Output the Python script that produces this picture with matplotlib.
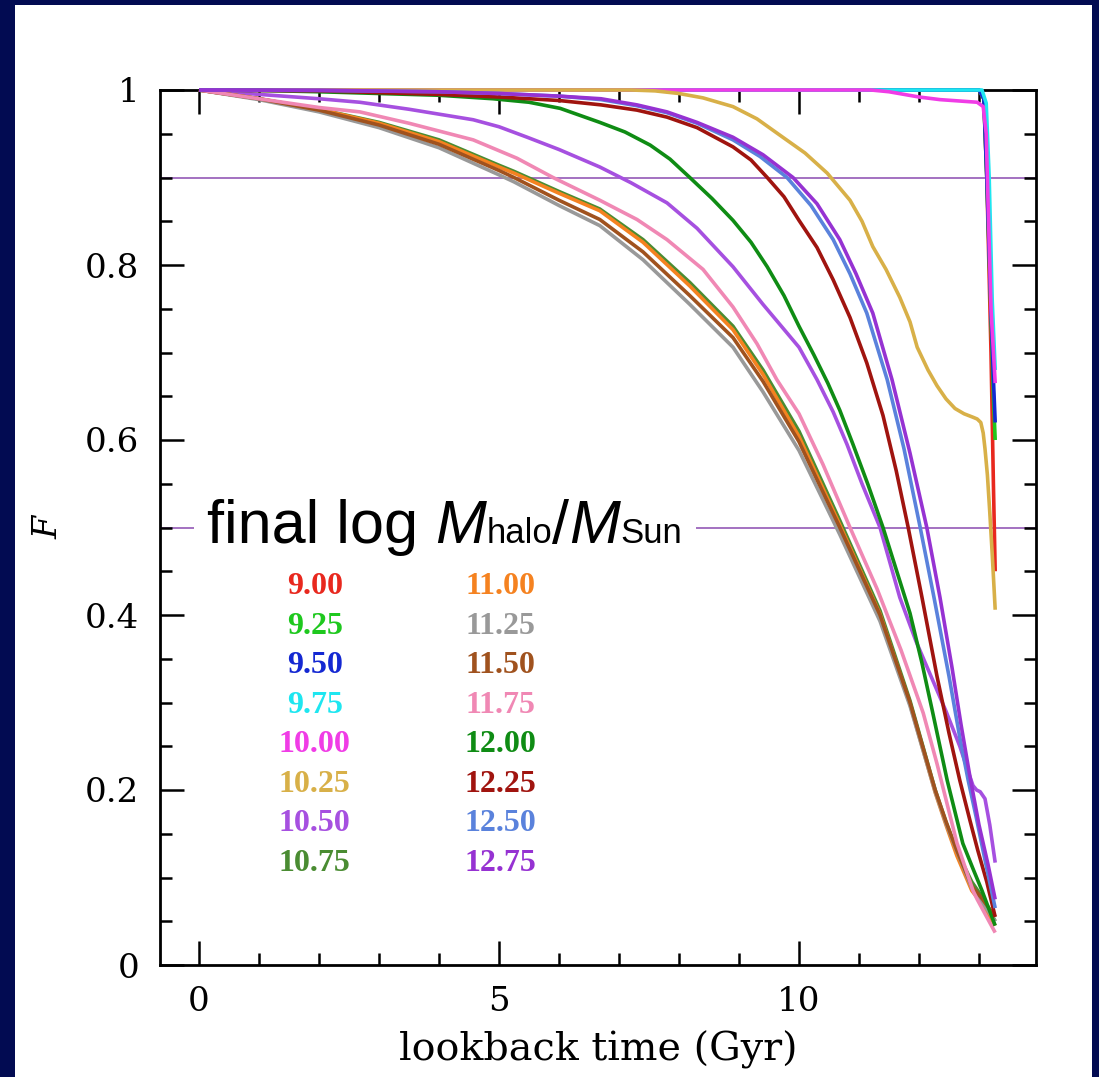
import matplotlib
matplotlib.use("Agg")
import matplotlib.pyplot as plt
from matplotlib.patches import Rectangle
from matplotlib.offsetbox import TextArea, HPacker, AnnotationBbox
from matplotlib.ticker import MultipleLocator

# ---- fraction F of the final halo mass already assembled vs lookback time (Gyr) ----
t_900 = [0, 13.0, 13.08, 13.13, 13.2, 13.24, 13.27]
f_900 = [1, 1.0, 0.99, 0.90, 0.70, 0.55, 0.45]

t_925 = [0, 13.0, 13.08, 13.13, 13.2, 13.24, 13.27]
f_925 = [1, 1.0, 0.99, 0.90, 0.74, 0.65, 0.60]

t_950 = [0, 13.0, 13.08, 13.13, 13.2, 13.24, 13.27]
f_950 = [1, 1.0, 0.99, 0.90, 0.75, 0.67, 0.62]

t_975 = [0, 13.05, 13.12, 13.17, 13.22, 13.27]
f_975 = [1, 1.0, 0.985, 0.90, 0.76, 0.68]

t_1000 = [0, 11.2, 11.5, 12.0, 12.35, 12.97, 13.07, 13.12, 13.15, 13.2, 13.27]
f_1000 = [1, 1.0, 0.998, 0.992, 0.989, 0.986, 0.981, 0.95, 0.874, 0.75, 0.665]

t_1025 = [0, 7.2, 7.6, 8.0, 8.4, 8.9, 9.3, 9.73, 10.1, 10.47, 10.85, 11.05, 11.23,
          11.45, 11.68, 11.85, 11.97, 12.15, 12.3, 12.45, 12.6, 12.75, 12.9, 12.97,
          13.03, 13.07, 13.1, 13.14, 13.18, 13.22, 13.27]
f_1025 = [1, 1.0, 0.999, 0.996, 0.991, 0.981, 0.967, 0.946, 0.928, 0.905, 0.874, 0.85,
          0.821, 0.795, 0.763, 0.735, 0.706, 0.68, 0.662, 0.647, 0.636, 0.63, 0.626,
          0.624, 0.62, 0.608, 0.59, 0.56, 0.517, 0.47, 0.406]

t_1050 = [0, 1, 2, 2.68, 3.5, 4.57, 5.0, 5.47, 6.0, 6.68, 7.2, 7.8, 8.3, 8.9, 9.4,
          10.0, 10.3, 10.57, 10.8, 11.05, 11.35, 11.68, 11.95, 12.2, 12.45, 12.68,
          12.8, 12.9, 12.96, 13.02, 13.1, 13.18, 13.27]
f_1050 = [1, 0.995, 0.99, 0.986, 0.978, 0.966, 0.958, 0.946, 0.932, 0.912, 0.894, 0.871,
          0.842, 0.798, 0.755, 0.706, 0.669, 0.632, 0.595, 0.55, 0.5, 0.42, 0.37, 0.33,
          0.29, 0.25, 0.225, 0.205, 0.2, 0.198, 0.19, 0.16, 0.117]

t_1075 = [0, 1, 2, 3, 4, 5, 5.25, 6, 6.68, 7.4, 8.18, 8.9, 9.4, 10.0, 10.68, 11.35,
          11.85, 12.27, 12.45, 12.63, 12.88, 13.05, 13.27]
f_1075 = [1, 0.99, 0.978, 0.963, 0.943, 0.914, 0.907, 0.884, 0.864, 0.829, 0.78, 0.73,
          0.68, 0.61, 0.508, 0.405, 0.302, 0.2, 0.163, 0.13, 0.095, 0.078, 0.05]

t_1100 = [0, 1, 2, 3, 4, 5, 5.25, 6, 6.68, 7.4, 8.18, 8.9, 9.4, 10.0, 10.68, 11.35,
          11.85, 12.27, 12.45, 12.63, 12.88, 13.05, 13.27]
f_1100 = [1, 0.99, 0.978, 0.962, 0.941, 0.912, 0.905, 0.882, 0.862, 0.826, 0.776, 0.726,
          0.675, 0.604, 0.503, 0.401, 0.298, 0.197, 0.16, 0.125, 0.085, 0.07, 0.045]

t_1125 = [0, 1, 2, 3, 4, 5, 5.25, 6, 6.68, 7.4, 8.18, 8.9, 9.4, 10.0, 10.68, 11.35,
          11.85, 12.27, 12.45, 12.63, 12.88, 13.05, 13.27]
f_1125 = [1, 0.989, 0.975, 0.957, 0.934, 0.903, 0.895, 0.868, 0.845, 0.806, 0.755, 0.706,
          0.655, 0.588, 0.492, 0.393, 0.296, 0.198, 0.162, 0.13, 0.088, 0.072, 0.05]

t_1150 = [0, 1, 2, 3, 4, 5, 5.25, 6, 6.68, 7.4, 8.18, 8.9, 9.4, 10.0, 10.68, 11.35,
          11.85, 12.27, 12.45, 12.63, 12.88, 13.05, 13.27]
f_1150 = [1, 0.99, 0.977, 0.96, 0.938, 0.908, 0.9, 0.874, 0.852, 0.815, 0.765, 0.717,
          0.667, 0.598, 0.5, 0.4, 0.3, 0.2, 0.164, 0.131, 0.09, 0.076, 0.055]

t_1175 = [0, 1, 2, 2.68, 3.5, 4.57, 5.3, 5.9, 6.68, 7.3, 7.8, 8.4, 8.9, 9.3, 9.63, 10.0,
          10.4, 10.85, 11.3, 11.7, 12.07, 12.3, 12.63, 12.9, 12.97, 13.27]
f_1175 = [1, 0.99, 0.98, 0.975, 0.962, 0.943, 0.922, 0.90, 0.874, 0.852, 0.829, 0.795,
          0.752, 0.71, 0.669, 0.63, 0.572, 0.5, 0.43, 0.36, 0.288, 0.23, 0.14, 0.085,
          0.075, 0.037]

t_1200 = [0, 1, 2, 3, 4, 4.9, 5.5, 6.02, 6.68, 7.1, 7.52, 7.85, 8.18, 8.55, 8.9, 9.2,
          9.47, 9.75, 10.0, 10.25, 10.48, 10.68, 10.9, 11.15, 11.4, 11.62, 11.85, 12.05,
          12.23, 12.47, 12.73, 12.9, 13.05, 13.27]
f_1200 = [1, 0.9995, 0.998, 0.996, 0.994, 0.99, 0.986, 0.979, 0.963, 0.952, 0.937,
          0.921, 0.90, 0.876, 0.851, 0.826, 0.798, 0.765, 0.73, 0.697, 0.665, 0.634,
          0.595, 0.549, 0.5, 0.452, 0.402, 0.345, 0.288, 0.211, 0.139, 0.11, 0.085, 0.045]

t_1225 = [0, 1, 2, 3, 4, 5, 6, 6.7, 7.3, 7.8, 8.3, 8.9, 9.2, 9.47, 9.75, 10.0, 10.3,
          10.57, 10.85, 11.13, 11.4, 11.62, 11.82, 12.05, 12.3, 12.5, 12.68, 12.85,
          12.98, 13.13, 13.27]
f_1225 = [1, 0.9995, 0.999, 0.997, 0.995, 0.992, 0.988, 0.983, 0.977, 0.969, 0.957,
          0.935, 0.92, 0.90, 0.878, 0.851, 0.82, 0.783, 0.74, 0.688, 0.628, 0.565, 0.50,
          0.42, 0.33, 0.265, 0.211, 0.165, 0.131, 0.095, 0.055]

t_1250 = [0, 2, 4, 5, 6, 6.7, 7.3, 7.8, 8.3, 8.9, 9.35, 9.8, 10.2, 10.57, 10.85, 11.13,
          11.47, 11.75, 12.02, 12.25, 12.5, 12.68, 12.82, 12.95, 13.1, 13.27]
f_1250 = [1, 0.9995, 0.998, 0.996, 0.993, 0.989, 0.982, 0.974, 0.962, 0.943, 0.924,
          0.90, 0.868, 0.829, 0.79, 0.745, 0.669, 0.59, 0.5, 0.42, 0.33, 0.26, 0.211,
          0.17, 0.12, 0.065]

t_1275 = [0, 2, 4, 5, 6, 6.7, 7.3, 7.8, 8.3, 8.9, 9.4, 9.9, 10.3, 10.68, 10.95, 11.23,
          11.55, 11.85, 12.13, 12.35, 12.55, 12.7, 12.85, 13.0, 13.15, 13.27]
f_1275 = [1, 0.9997, 0.998, 0.996, 0.993, 0.99, 0.983, 0.975, 0.963, 0.946, 0.926,
          0.90, 0.87, 0.829, 0.79, 0.745, 0.669, 0.585, 0.5, 0.42, 0.34, 0.275, 0.215,
          0.16, 0.115, 0.075]

mass_labels = ["9.00", "9.25", "9.50", "9.75", "10.00", "10.25", "10.50", "10.75",
               "11.00", "11.25", "11.50", "11.75", "12.00", "12.25", "12.50", "12.75"]
mass_colors = ["#e8281e", "#1ec81e", "#1428d2", "#1ee6f0", "#f03ce6", "#d8b048",
               "#a650e0", "#4a8c32", "#f58220", "#999999", "#a0521e", "#f088b4",
               "#0f8c14", "#a0140f", "#5a82dc", "#9632d2"]
times = [t_900, t_925, t_950, t_975, t_1000, t_1025, t_1050, t_1075,
         t_1100, t_1125, t_1150, t_1175, t_1200, t_1225, t_1250, t_1275]
fractions = [f_900, f_925, f_950, f_975, f_1000, f_1025, f_1050, f_1075,
             f_1100, f_1125, f_1150, f_1175, f_1200, f_1225, f_1250, f_1275]

reference_levels = [0.9, 0.5]
x_ticks = [0, 5, 10]
y_ticks = [0, 0.2, 0.4, 0.6, 0.8, 1]
y_tick_labels = ["0", "0.2", "0.4", "0.6", "0.8", "1"]

# ---- figure ----
W, H = 1099, 1077
fig = plt.figure(figsize=(W / 100, H / 100), dpi=100, facecolor="#020b52")
fig.add_artist(Rectangle((15 / W, 0), (1092 - 15) / W, (1077 - 5) / H,
                         transform=fig.transFigure, facecolor="white",
                         edgecolor="none", zorder=-10))

ax = fig.add_axes([160 / W, 112 / H, 876 / W, 875 / H])
ax.set_xlim(-0.65, 13.95)
ax.set_ylim(0, 1)

for lev in reference_levels:
    ax.axhline(lev, color="#8a4ab0", lw=1.1, zorder=1.5)

for t, f, c in zip(times, fractions, mass_colors):
    ax.plot(t, f, color=c, lw=2.6, zorder=3, clip_on=False,
            solid_joinstyle="round", solid_capstyle="butt")

# axes frame and ticks
for sp in ax.spines.values():
    sp.set_linewidth(2.0)
    sp.set_zorder(2.5)
ax.set_xticks(x_ticks)
ax.set_yticks(y_ticks)
ax.set_yticklabels(y_tick_labels)
ax.xaxis.set_minor_locator(MultipleLocator(1))
ax.yaxis.set_minor_locator(MultipleLocator(0.05))
ax.tick_params(which="both", direction="in", top=True, right=True, width=1.8,
               color="black")
ax.tick_params(which="major", length=17.5, pad=15, labelsize=24.5)
ax.tick_params(which="minor", length=8.6)
for lab in ax.get_xticklabels() + ax.get_yticklabels():
    lab.set_family("DejaVu Serif")

ax.set_xlabel("lookback time (Gyr)", family="DejaVu Serif", fontsize=28.5, labelpad=9)
ax.set_ylabel("F", family="DejaVu Serif", style="italic", fontsize=24, labelpad=15)

# heading of the colour key
sans = "Liberation Sans"
big, small = 44, 25
pieces = [
    TextArea("final log ", textprops=dict(family=sans, size=big)),
    TextArea("M", textprops=dict(family=sans, size=big, style="italic")),
    TextArea("halo", textprops=dict(family=sans, size=small)),
    TextArea("/", textprops=dict(family=sans, size=big)),
    TextArea("M", textprops=dict(family=sans, size=big, style="italic")),
    TextArea("Sun", textprops=dict(family=sans, size=small)),
]
row = HPacker(children=pieces, align="baseline", pad=0, sep=0)
ab = AnnotationBbox(row, (0.14, 0.5), xycoords="data", box_alignment=(0, 0.5),
                    frameon=True, pad=1.0,
                    bboxprops=dict(facecolor="white", edgecolor="none"), zorder=4)
ax.add_artist(ab)

# colour key: two columns of mass labels
col_x = [1.93, 5.02]
row_top = 0.432
row_step = 0.0451
for i, (lab, c) in enumerate(zip(mass_labels, mass_colors)):
    col, r = divmod(i, 8)
    ax.text(col_x[col], row_top - r * row_step, lab, color=c, ha="center", va="center",
            family="Liberation Serif", weight="bold", fontsize=23, zorder=5)

fig.savefig("out.png", dpi=100, facecolor=fig.get_facecolor())
